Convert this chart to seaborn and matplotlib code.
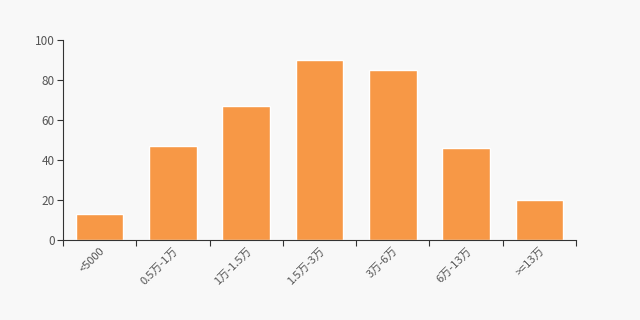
import matplotlib
matplotlib.use("Agg")
import matplotlib.pyplot as plt
import seaborn as sns
import pandas as pd

categories = ["<5000", "0.5万-1万", "1万-1.5万", "1.5万-3万", "3万-6万", "6万-13万", ">=13万"]
values = [13, 47, 67, 90, 85, 46, 20]

sns.set_style("white")
plt.rcParams['font.family'] = ['Noto Sans CJK SC', 'DejaVu Sans']

bg = "#f8f8f8"
fig = plt.figure(figsize=(6.4, 3.2), dpi=100, facecolor=bg)
ax = fig.add_axes([63/640, 1-240/320, (576-63)/640, 200/320])
ax.set_facecolor(bg)

df = pd.DataFrame({"cat": categories, "val": values})
sns.barplot(data=df, x="cat", y="val", color="#f79846", saturation=1, width=0.65, ax=ax)

ax.set_xlim(-0.5, len(categories) - 0.5)
ax.set_ylim(0, 100)
ax.set_yticks([0, 20, 40, 60, 80, 100])
ax.set_xlabel("")
ax.set_ylabel("")
for s in ["top", "right"]:
    ax.spines[s].set_visible(False)
for s in ["left", "bottom"]:
    ax.spines[s].set_color("#333333")
    ax.spines[s].set_linewidth(0.8)

ax.set_xticks(range(len(categories)))
ax.set_xticklabels(categories, rotation=45, ha="right", rotation_mode="anchor", fontsize=8, color="#555555")
ax.set_xticks([i - 0.5 for i in range(len(categories) + 1)], minor=True)
ax.tick_params(axis="x", which="minor", bottom=True, length=4, color="#333333", width=0.8)
ax.tick_params(axis="x", which="major", bottom=True, length=0, pad=4)
ax.tick_params(axis="y", left=True, length=4, color="#333333", width=0.8, pad=2)
for lab in ax.get_yticklabels():
    lab.set_fontsize(8.5)
    lab.set_color("#555555")

fig.savefig("out.png", dpi=100, facecolor=bg)
